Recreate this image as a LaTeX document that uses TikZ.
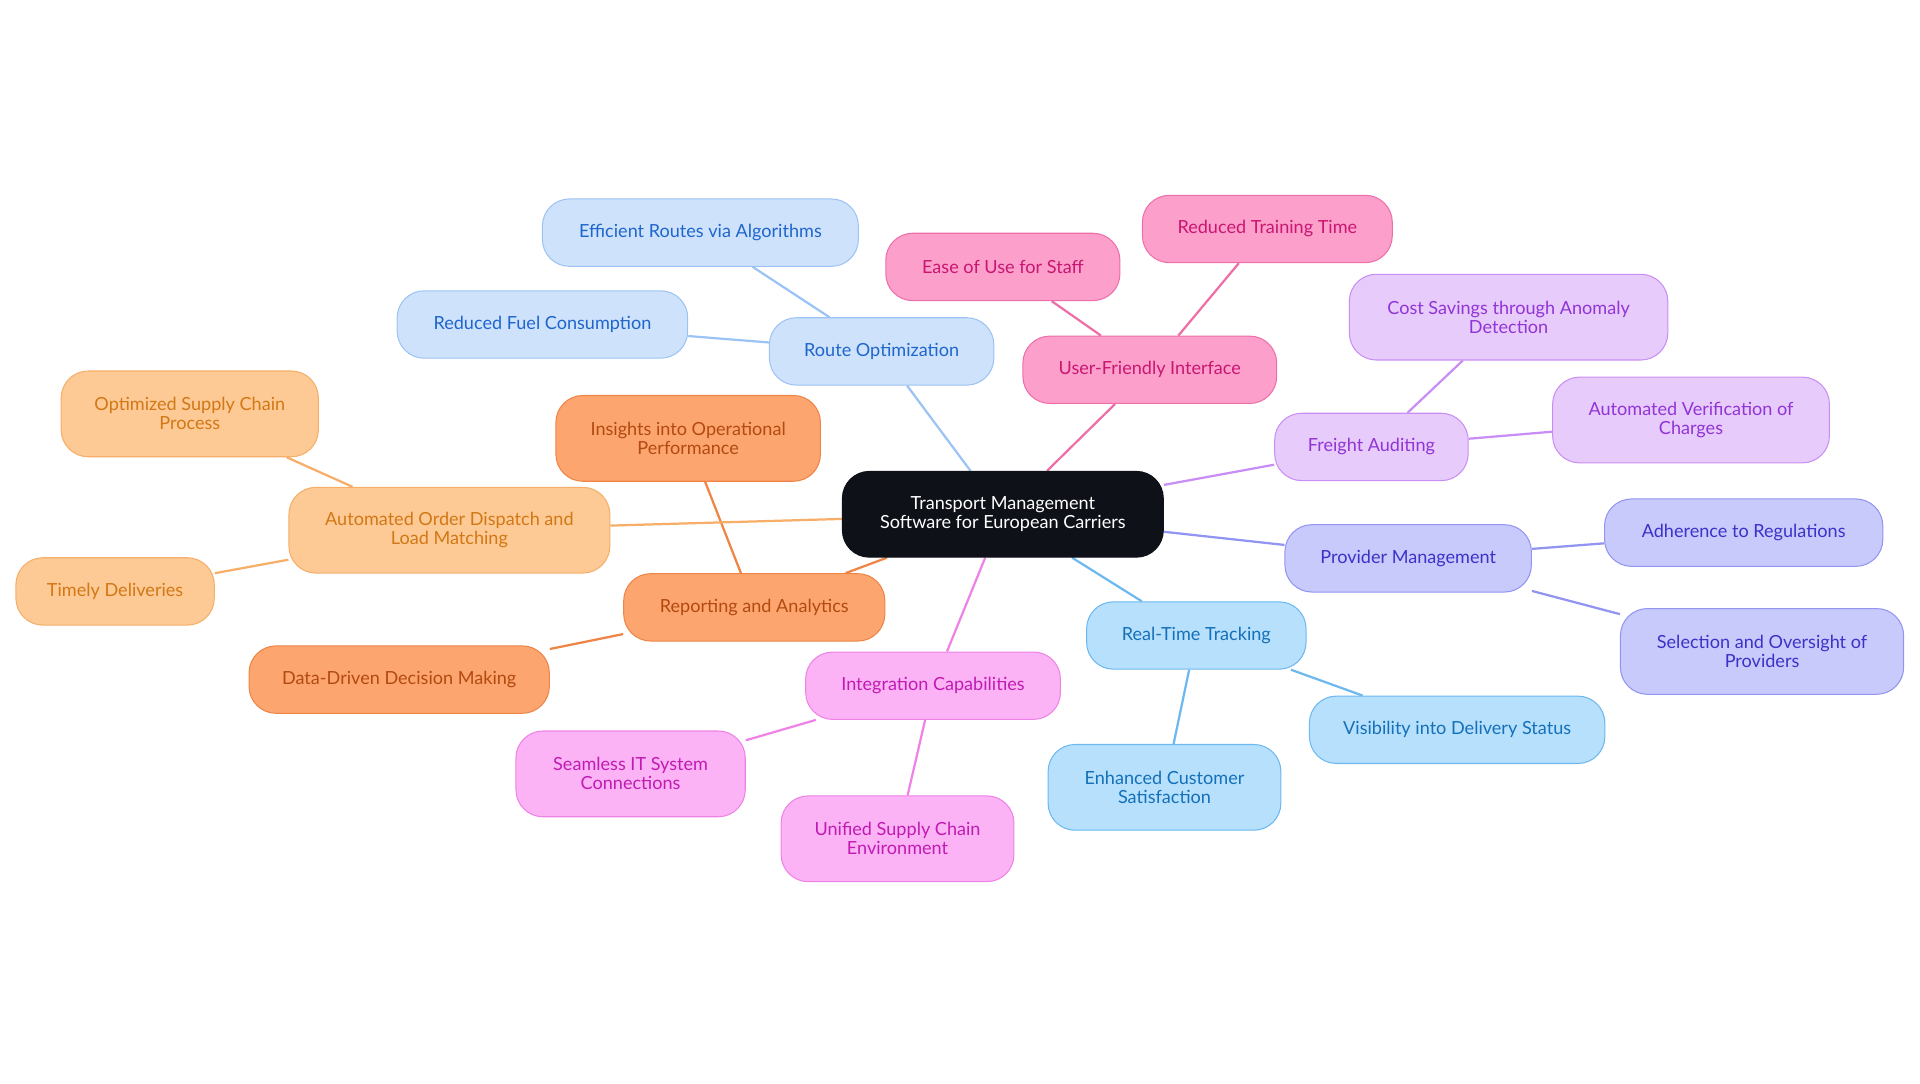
\documentclass[tikz,border=0pt]{standalone}
\usepackage{fontspec}
\setmainfont{Lato}
\usetikzlibrary{positioning}
\definecolor{rtF}{HTML}{CFE2FB}\definecolor{rtD}{HTML}{9CC3F5}\definecolor{rtT}{HTML}{1F66CC}
\definecolor{ufF}{HTML}{FC9FCB}\definecolor{ufD}{HTML}{EE6FA8}\definecolor{ufT}{HTML}{C81772}
\definecolor{faF}{HTML}{E6CBFB}\definecolor{faD}{HTML}{C98EF5}\definecolor{faT}{HTML}{9234D6}
\definecolor{pmF}{HTML}{C8CAFC}\definecolor{pmD}{HTML}{9194F0}\definecolor{pmT}{HTML}{3C32C8}
\definecolor{tkF}{HTML}{B7E0FD}\definecolor{tkD}{HTML}{6CB8EF}\definecolor{tkT}{HTML}{1470B8}
\definecolor{icF}{HTML}{FBB3F5}\definecolor{icD}{HTML}{EE82E6}\definecolor{icT}{HTML}{C11BB3}
\definecolor{raF}{HTML}{FCA56F}\definecolor{raD}{HTML}{EE8446}\definecolor{raT}{HTML}{B34A10}
\definecolor{odF}{HTML}{FDC994}\definecolor{odD}{HTML}{F6AE68}\definecolor{odT}{HTML}{D27816}
\definecolor{hub}{HTML}{0F1119}
\pgfdeclarelayer{back}\pgfsetlayers{back,main}
\tikzset{
  box/.style={rounded corners=0.55cm, draw, line width=0.6pt, align=center, minimum height=1.375cm,
              inner sep=2pt, font=\fontsize{10.5}{11}\selectfont},
  tall/.style={minimum height=1.75cm},
  route/.style={fill=rtF, draw=rtD, text=rtT},
  ui/.style={fill=ufF, draw=ufD, text=ufT},
  audit/.style={fill=faF, draw=faD, text=faT},
  provider/.style={fill=pmF, draw=pmD, text=pmT},
  track/.style={fill=tkF, draw=tkD, text=tkT},
  integ/.style={fill=icF, draw=icD, text=icT},
  report/.style={fill=raF, draw=raD, text=raT},
  order/.style={fill=odF, draw=odD, text=odT},
  link/.style={line width=1.3pt},
}
\begin{document}
\begin{tikzpicture}[x=0.025cm, y=-0.025cm]
  \useasboundingbox (0,0) rectangle (1568,884.5);
  \node[box, tall, fill=hub, draw=hub, text=white, minimum width=6.55cm] (hubn) at (819,420) {Transport Management\\Software for European Carriers};

  \node[box, route, minimum width=4.58cm] (ro) at (720,287) {Route Optimization};
  \node[box, route, minimum width=6.45cm] (ro1) at (572,190) {Efficient Routes via Algorithms};
  \node[box, route, minimum width=5.93cm] (ro2) at (443,265) {Reduced Fuel Consumption};

  \node[box, ui, minimum width=5.18cm] (ui) at (939,302) {User-Friendly Interface};
  \node[box, ui, minimum width=4.78cm] (ui1) at (819,218) {Ease of Use for Staff};
  \node[box, ui, minimum width=5.10cm] (ui2) at (1035,187) {Reduced Training Time};

  \node[box, audit, minimum width=3.95cm] (fa) at (1120,365) {Freight Auditing};
  \node[box, audit, tall, minimum width=6.5cm] (fa1) at (1232,259) {Cost Savings through Anomaly\\Detection};
  \node[box, audit, tall, minimum width=5.65cm] (fa2) at (1381,343) {Automated Verification of\\Charges};

  \node[box, provider, minimum width=5.03cm] (pm) at (1150,456) {Provider Management};
  \node[box, provider, minimum width=5.68cm] (pm1) at (1424,435) {Adherence to Regulations};
  \node[box, provider, tall, minimum width=5.78cm] (pm2) at (1439,532) {Selection and Oversight of\\Providers};

  \node[box, track, minimum width=4.48cm] (tk) at (977,519) {Real-Time Tracking};
  \node[box, track, minimum width=6.03cm] (tk1) at (1190,596) {Visibility into Delivery Status};
  \node[box, track, tall, minimum width=4.75cm] (tk2) at (951,643) {Enhanced Customer\\Satisfaction};

  \node[box, integ, minimum width=5.2cm] (ic) at (762,560) {Integration Capabilities};
  \node[box, integ, tall, minimum width=4.68cm] (ic1) at (515,632) {Seamless IT System\\Connections};
  \node[box, integ, tall, minimum width=4.75cm] (ic2) at (733,685) {Unified Supply Chain\\Environment};

  \node[box, report, minimum width=5.33cm] (ra) at (616,496) {Reporting and Analytics};
  \node[box, report, tall, minimum width=5.4cm] (ra1) at (562,358) {Insights into Operational\\Performance};
  \node[box, report, minimum width=6.13cm] (ra2) at (326,555) {Data-Driven Decision Making};

  \node[box, order, tall, minimum width=6.55cm] (od) at (367,433) {Automated Order Dispatch and\\Load Matching};
  \node[box, order, tall, minimum width=5.25cm] (od1) at (155,338) {Optimized Supply Chain\\Process};
  \node[box, order, minimum width=4.05cm] (od2) at (94,483) {Timely Deliveries};

  % connectors behind the boxes
  \begin{pgfonlayer}{back}
    \draw[link, rtD] (hubn) -- (ro) (ro) -- (ro1) (ro) -- (ro2);
    \draw[link, ufD] (hubn) -- (ui) (ui) -- (ui1) (ui) -- (ui2);
    \draw[link, faD] (hubn) -- (fa) (fa) -- (fa1) (fa) -- (fa2);
    \draw[link, pmD] (hubn) -- (pm) (pm) -- (pm1) (pm) -- (pm2);
    \draw[link, tkD] (hubn) -- (tk) (tk) -- (tk1) (tk) -- (tk2);
    \draw[link, icD] (hubn) -- (ic) (ic) -- (ic1) (ic) -- (ic2);
    \draw[link, raD] (hubn) -- (ra) (ra) -- (ra1) (ra) -- (ra2);
    \draw[link, odD] (hubn) -- (od) (od) -- (od1) (od) -- (od2);
  \end{pgfonlayer}
\end{tikzpicture}
\end{document}
